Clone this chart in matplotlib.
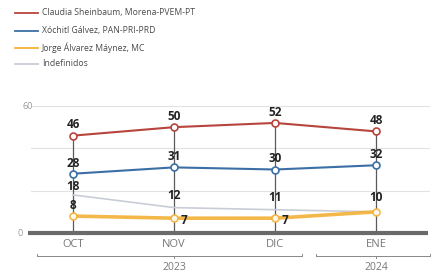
import numpy as np
import matplotlib
matplotlib.use("Agg")
import matplotlib.pyplot as plt
from matplotlib.lines import Line2D

# datos de la encuesta
meses = ["OCT", "NOV", "DIC", "ENE"]
anios = ["2023", "2024"]
sheinbaum = [46, 50, 52, 48]
galvez = [28, 31, 30, 32]
maynez = [8, 7, 7, 10]
indefinidos = [18, 12, 11, 10]
nombres = ["Claudia Sheinbaum, Morena-PVEM-PT", "Xóchitl Gálvez, PAN-PRI-PRD",
           "Jorge Álvarez Máynez, MC", "Indefinidos"]

c_rojo = "#b8453d"
c_azul = "#3b6fa6"
c_nar = "#f2b135"
c_gris = "#c9cdd8"
c_txt = "#222222"

plt.rcParams['font.family'] = ['Open Sans', 'DejaVu Sans']

fig = plt.figure(figsize=(4.41, 2.78), dpi=100)
ax = fig.add_axes([28/441, (278-233)/278, 400/441, 127/278])
x = np.arange(len(meses))
ax.set_xlim((28-73)/101, (428-73)/101)
ax.set_ylim(0, 60)
ax.axis("off")

# rejilla
for g in [20, 40, 60]:
    ax.plot([-0.42, 3.52], [g, g], color="#e2e2e2", lw=0.8, zorder=0, clip_on=False)

# lineas verticales
for i in x:
    ax.plot([i, i], [0, sheinbaum[i]], color="#5a5a5a", lw=0.9, zorder=1)

# eje
ax.plot([(28-73)/101, (428-73)/101], [0, 0], color="#6a6a6a", lw=3, zorder=2,
        solid_capstyle="butt", clip_on=False)
ax.text(-0.50, 0, "0", ha="right", va="center", fontsize=6.5, color="#999999")
ax.text(-0.40, 60, "60", ha="right", va="center", fontsize=6.5, color="#999999")

# series
ax.plot(x, indefinidos, color=c_gris, lw=1.2, zorder=3)
ax.plot(x, maynez, color=c_nar, lw=2.6, zorder=4, alpha=0.9,
        marker="o", ms=5, mfc="white", mec=c_nar, mew=1.2)
ax.plot(x, galvez, color=c_azul, lw=1.5, zorder=5,
        marker="o", ms=5, mfc="white", mec=c_azul, mew=1.2)
ax.plot(x, sheinbaum, color=c_rojo, lw=1.5, zorder=5,
        marker="o", ms=5, mfc="white", mec=c_rojo, mew=1.2)

# etiquetas de valores
fs = 8.5
kw = dict(ha="center", va="bottom", fontsize=fs, fontweight="bold", color=c_txt,
          zorder=6, clip_on=False)
for i in x:
    ax.annotate(str(sheinbaum[i]), (i, sheinbaum[i]), xytext=(0, 3),
                textcoords="offset points", **kw)
    ax.annotate(str(galvez[i]), (i, galvez[i]), xytext=(0, 3),
                textcoords="offset points", **kw)
for i in [0]:
    ax.annotate(str(indefinidos[i]), (i, indefinidos[i]), xytext=(0, 1.5),
                textcoords="offset points", **kw)
    ax.annotate(str(maynez[i]), (i, maynez[i]), xytext=(0, 3),
                textcoords="offset points", **kw)
for i in [1, 2]:
    ax.annotate(str(indefinidos[i]), (i, indefinidos[i]), xytext=(0, 4),
                textcoords="offset points", **kw)
    ax.annotate(str(maynez[i]), (i, maynez[i]), xytext=(7, -1.5),
                textcoords="offset points", ha="center", va="center",
                fontsize=fs, fontweight="bold", color=c_txt, zorder=6)
ax.annotate(str(maynez[3]), (3, maynez[3]), xytext=(0, 5.5),
            textcoords="offset points", **kw)

# meses
for i, m in enumerate(meses):
    ax.text(i, -5.5, m, ha="center", va="center", fontsize=8, color="#777777",
            clip_on=False)

# llaves de años
yb = -11
def llave(x0, x1, xc, anio):
    ax.plot([x0, x0, x1, x1], [yb + 1.2, yb, yb, yb + 1.2], color="#888888",
            lw=0.7, clip_on=False)
    ax.plot([xc, xc], [yb, yb - 1.0], color="#888888", lw=0.7, clip_on=False)
    ax.text(xc, yb - 5.5, anio, ha="center", va="center", fontsize=7.5,
            color="#777777", clip_on=False)

llave((37-73)/101, (302-73)/101, 1, anios[0])
llave((316-73)/101, (430-73)/101, 3, anios[1])

# leyenda
colores = [c_rojo, c_azul, c_nar, c_gris]
filas = [13, 31, 48, 64]
for nom, col, fy in zip(nombres, colores, filas):
    yy = 1 - fy / 278
    fig.add_artist(Line2D([15/441, 38/441], [yy, yy], color=col, lw=1.3))
    fig.text(42/441, yy, nom, ha="left", va="center", fontsize=6.2, color="#4a4a4a")

fig.savefig("out.png", dpi=100)
